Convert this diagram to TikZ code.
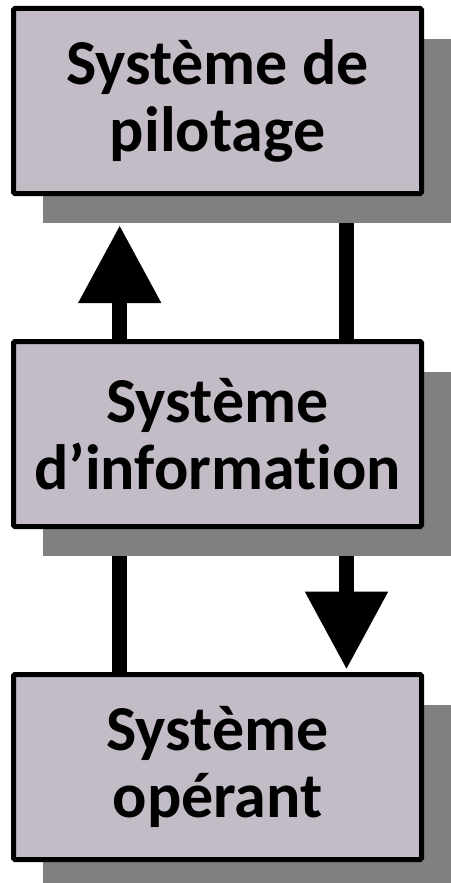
\documentclass[tikz,border=0pt]{standalone}
\usepackage{fontspec}
\setmainfont[Ligatures=NoCommon]{Carlito}
\usetikzlibrary{arrows.meta,backgrounds}
\definecolor{boxfill}{RGB}{195,188,199}
\definecolor{shadowgray}{RGB}{128,128,128}
\begin{document}
\begin{tikzpicture}[x=1pt,y=1pt,
  sysbox/.style={draw=black, line width=5pt, fill=boxfill, rounded corners=1.5pt,
    minimum width=408pt, minimum height=185pt, inner sep=0pt, align=center,
    font=\fontsize{64}{67}\selectfont\bfseries},
  shadowbox/.style={fill=shadowgray, draw=none, minimum width=417pt,
    minimum height=184pt, inner sep=0pt},
  link/.style={line width=15.5pt, draw=black},
  flow/.style={link, -{Triangle[length=78pt,width=79pt]}}]
\useasboundingbox (0,0) rectangle (450,-883);
% shadows behind the three boxes
\node[shadowbox] (sh1) at (251.5,-131) {};
\node[shadowbox] (sh2) at (251.5,-464) {};
\node[shadowbox] (sh3) at (251.5,-797) {};
% the three systems
\node[sysbox] (b1) at (217.5,-101) {Système de\\pilotage};
\node[sysbox] (b2) at (217.5,-434) {Système\\d’information};
\node[sysbox] (b3) at (217.5,-767) {Système\\opérant};
% columns for the vertical links
\coordinate (L) at (119.7,0);
\coordinate (R) at (346.5,0);
% links between the levels, kept under the boxes
\begin{scope}[on background layer]
\draw[flow] (b2.north -| L) -- ([yshift=-2pt]sh1.south -| L);
\draw[link] (sh1.south -| R) -- (b2.north -| R);
\draw[link] (sh2.south -| L) -- (b3.north -| L);
\draw[flow] (sh2.south -| R) -- ([yshift=2.5pt]b3.north -| R);
\end{scope}
\end{tikzpicture}
\end{document}
